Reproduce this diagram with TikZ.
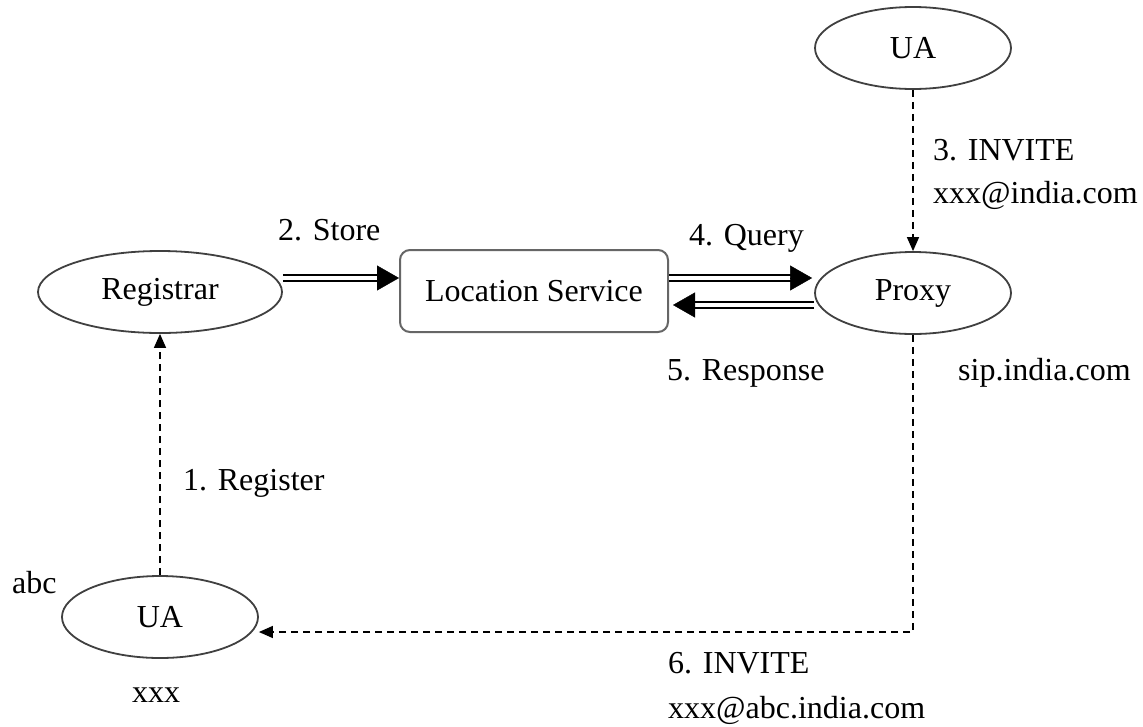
\documentclass[tikz,border=0pt]{standalone}
\usepackage{fontspec}
\setmainfont{Liberation Serif}
\usetikzlibrary{shapes.geometric,arrows.meta,calc}

\tikzset{
  ent/.style={ellipse, draw=black!75, line width=1.8pt, inner sep=0pt,
              minimum width=196pt, minimum height=82pt},
  store/.style={rounded corners=10pt, draw=black!60, line width=2pt, inner sep=0pt,
                minimum width=268pt, minimum height=82pt},
  lbl/.style={anchor=base west, inner sep=0pt},
  msg/.style={dash pattern=on 7pt off 5pt, line width=1.4pt,
              -{Triangle[length=14pt,width=12pt]}},
  dblline/.style={double, line width=2pt, double distance=4pt, shorten >=21pt},
  bigtip/.style={-{Triangle[length=22pt,width=25pt]}, line width=0.4pt},
}

% double-lined message with a solid head
\newcommand\dblmsg[2]{%
  \draw[dblline] #1 -- #2;
  \draw[bigtip] ($#2!2pt!#1$) -- #2;}

\begin{document}
\begin{tikzpicture}[x=1pt, y=-1pt, font=\fontsize{32pt}{36pt}\selectfont]
  \useasboundingbox[fill=white] (0,0) rectangle (1143,726);

  % entities
  \node[ent] (ua1)  at (913,48)  {UA};
  \node[ent] (prox) at (913,293) {Proxy};
  \node[ent, minimum width=244pt] (reg) at (160,292) {Registrar};
  \node[store] (loc) at (534,291) {Location Service};
  \node[ent] (ua2)  at (160,617) {UA};

  % registration and lookup
  \draw[msg] (ua2.north) -- (reg.south);
  \dblmsg{([yshift=14pt]reg.east)}{([yshift=13pt]loc.west)}
  \draw[msg] (ua1.south) -- (prox.north);
  \dblmsg{([yshift=13pt]loc.east)}{([yshift=15pt,xshift=-2pt]prox.west)}
  \dblmsg{([yshift=-12pt]prox.west)}{([yshift=-14pt,xshift=4pt]loc.east)}
  \draw[msg] (prox.south) |- ([yshift=-15pt]ua2.east);

  % labels
  \node[lbl] (l1)  at (183,490) {1. Register};
  \node[lbl] (l2)  at (278,240) {2. Store};
  \node[lbl] (l3a) at (933,160) {3. INVITE};
  \node[lbl] (l3b) at (933,203) {xxx@india.com};
  \node[lbl] (l4)  at (689,245) {4. Query};
  \node[lbl] (l5)  at (667,380) {5. Response};
  \node[lbl] (ls)  at (958,380) {sip.india.com};
  \node[lbl] (l6a) at (668,673) {6. INVITE};
  \node[lbl] (l6b) at (668,718) {xxx@abc.india.com};
  \node[lbl] (la)  at (12,593)  {abc};
  \node[lbl] (lx)  at (132,702) {xxx};
\end{tikzpicture}
\end{document}
